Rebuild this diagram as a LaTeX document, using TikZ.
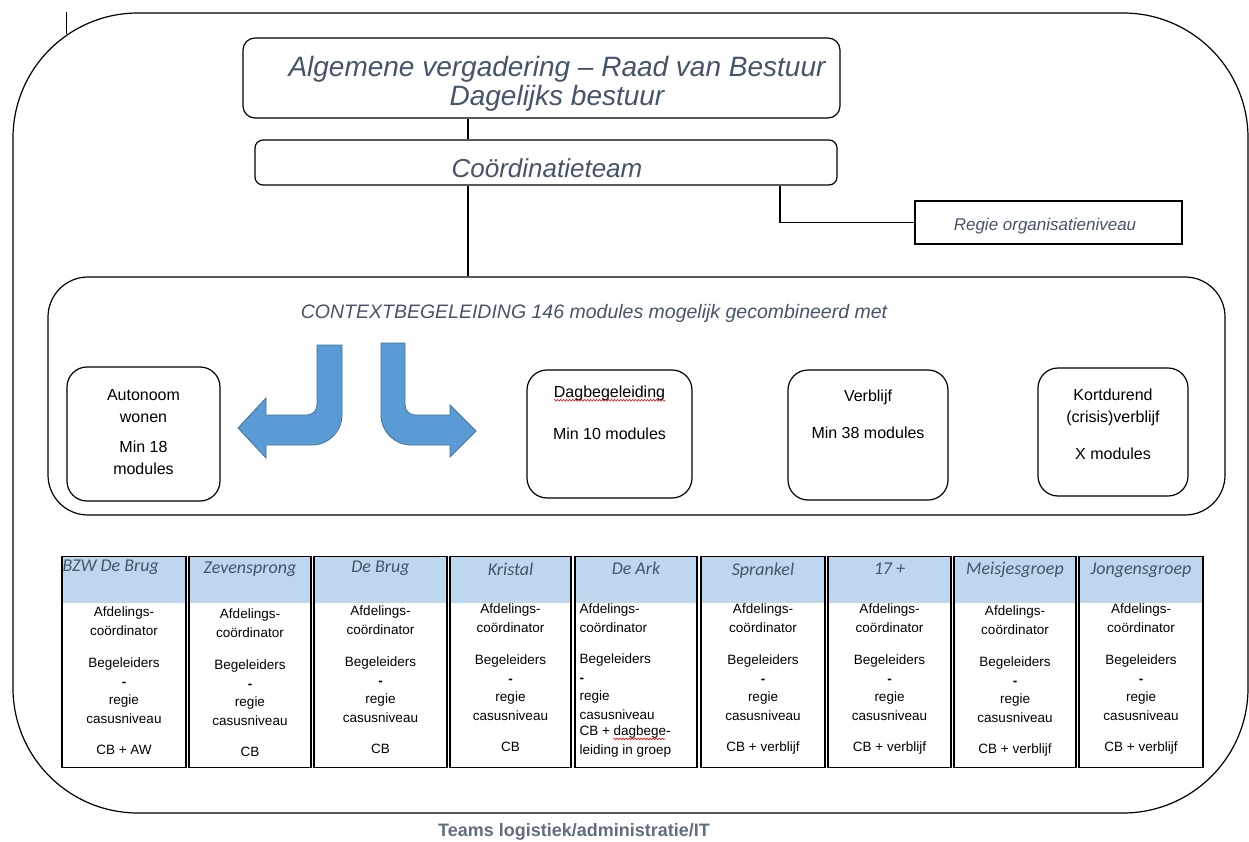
\documentclass[tikz,border=0pt]{standalone}
\usepackage{fontspec}
\setmainfont{Liberation Sans}
\newfontfamily\calibri{Carlito}
\usetikzlibrary{positioning}
\usetikzlibrary{decorations.pathmorphing}
\definecolor{titlegray}{HTML}{44546A}
\definecolor{headblue}{HTML}{BDD7EE}
\definecolor{arrowblue}{HTML}{5B9BD5}
\definecolor{arrowline}{HTML}{41719C}
\newcommand{\unittext}[1]{Afdelings-\\coördinator\\[14pt]Begeleiders\\\textbf{-}\\regie\\casusniveau\\[13pt]#1}
\tikzset{every node/.style={inner sep=0pt},
rbox/.style={ % Rounded boxes of board, context and modules
draw,
line width=1.2pt,
rounded corners=#1},
rbox/.default=10pt,
title/.style={font=\itshape\fontsize{28}{29}\selectfont, text=titlegray, align=center},
modtext/.style={font=\fontsize{16}{22}\selectfont, align=center},
unit/.style={ % Team columns with blue header
draw,
line width=1.3pt,
minimum height=211pt,
path picture={\fill[headblue] (path picture bounding box.north west)
rectangle ([yshift=-46pt]path picture bounding box.north east);}},
unithead/.style={font=\calibri\itshape\fontsize{18}{18}\selectfont, text=titlegray},
unitbody/.style={font=\fontsize{13.5}{18.5}\selectfont, align=center},
spell/.style={draw=red, line width=0.6pt, decorate,
decoration={snake, amplitude=0.8pt, segment length=3pt}},
bendarrow/.style={fill=arrowblue, draw=arrowline, line width=0.8pt},
link/.style={line width=1.2pt}}

\begin{document}
\begin{tikzpicture}[x=1pt, y=-1pt]
\useasboundingbox (0,0) rectangle (1249,842);
\node[rbox=125pt, minimum width=1235pt, minimum height=800pt] (org) at (630.5,413) {};
\draw[link] ([xshift=54pt]org.north west) -- ++(0,22);

% board and coordination
\node[rbox=12pt, minimum width=597pt, minimum height=80pt] (bestuur) at (541.5,78) {};
\node[title] (bestuurtext) at (557,84) {Algemene vergadering – Raad van Bestuur\\Dagelijks bestuur};
\node[rbox=8pt, minimum width=582pt, minimum height=45pt] (coord) at (546,162.5) {};
\node[title, font=\itshape\fontsize{26}{26}\selectfont] (coordtext) at (547,168) {Coördinatieteam};
\node[draw, line width=1.2pt, minimum width=267pt, minimum height=43pt] (regie) at (1048.5,222.5) {};
\node[font=\itshape\fontsize{17}{17}\selectfont, text=titlegray] (regietext) at (1045,226) {Regie organisatieniveau};

% context and modules
\node[rbox=40pt, minimum width=1177pt, minimum height=238pt] (ctx) at (636.5,396) {};
\node[title, font=\itshape\fontsize{19.5}{20}\selectfont] (ctxtitle) at (594,313) {CONTEXTBEGELEIDING 146 modules mogelijk gecombineerd met};
\node[rbox=20pt, minimum width=153pt, minimum height=134pt] (aw) at (143.5,434) {};
\node[rbox=20pt, minimum width=165pt, minimum height=128pt] (dag) at (609.5,434) {};
\node[rbox=20pt, minimum width=160pt, minimum height=130pt] (verblijf) at (868,435) {};
\node[rbox=20pt, minimum width=150pt, minimum height=128pt] (kort) at (1113,432) {};
\node[modtext, below=23pt of aw.north] (awtext) {Autonoom\\wonen\\[8pt]Min 18\\modules};
\node[modtext, below=16pt of dag.north] (dagname) {Dagbegeleiding};
\node[modtext, below=27pt of dagname] (dagtext) {Min 10 modules};
\draw[spell] ([yshift=-3pt]dagname.base west) -- ([yshift=-3pt]dagname.base east);
\node[modtext, below=20pt of verblijf.north] (verblijftext) {Verblijf\\[15pt]Min 38 modules};
\node[modtext, below=21pt of kort.north] (korttext) {Kortdurend\\(crisis)verblijf\\[15pt]X modules};
\filldraw[bendarrow] (317,345) -- (342,345) -- (342,415) .. controls (342,431.5) and (328.5,445) .. (312,445) -- (266,445) -- (266,458) -- (238,428) -- (266,398) -- (266,415) -- (307,415) .. controls (312.5,415) and (317,410.5) .. (317,405) -- cycle;
\filldraw[bendarrow] (405,343) -- (381,343) -- (381,415) .. controls (381,431.5) and (394.5,445) .. (411,445) -- (450,445) -- (450,457) -- (476,431) -- (450,405) -- (450,415) -- (415,415) .. controls (409.5,415) and (405,410.5) .. (405,405) -- cycle;

% connectors
\coordinate (spine) at (468,0);
\coordinate (tap) at (780,0);
\draw[link] (bestuur.south -| spine) -- (coord.north -| spine);
\draw[link] (coord.south -| spine) -- (ctx.north -| spine);
\draw[link] (coord.south -| tap) |- (regie.west);

% teams
\node[unit, minimum width=124pt] (bzw) at (124,662) {};
\node[unit, minimum width=122pt] (zeven) at (250,662) {};
\node[unit, minimum width=133pt] (brug) at (380.5,662) {};
\node[unit, minimum width=121pt] (kristal) at (510.5,662) {};
\node[unit, minimum width=122pt] (ark) at (636,662) {};
\node[unit, minimum width=124pt] (sprankel) at (763,662) {};
\node[unit, minimum width=123pt] (zeventien) at (889.5,662) {};
\node[unit, minimum width=122pt] (meisjes) at (1015,662) {};
\node[unit, minimum width=124pt] (jongens) at (1141,662) {};
\node[unithead, anchor=north west] at ([xshift=1pt, yshift=-4pt]bzw.north west) {BZW De Brug};
\node[unithead, below=6pt of zeven.north] {Zevensprong};
\node[unithead, below=5pt of brug.north] {De Brug};
\node[unithead, below=7pt of kristal.north] {Kristal};
\node[unithead, below=6pt of ark.north] {De Ark};
\node[unithead, below=7pt of sprankel.north] {Sprankel};
\node[unithead, below=7pt of zeventien.north] {17 +};
\node[unithead, below=6pt of meisjes.north] {Meisjesgroep};
\node[unithead, below=7pt of jongens.north] {Jongensgroep};
\node[unitbody, below=51pt of bzw.north] {\unittext{CB + AW}};
\node[unitbody, below=53pt of zeven.north] {\unittext{CB}};
\node[unitbody, below=50pt of brug.north] {\unittext{CB}};
\node[unitbody, below=48pt of kristal.north] {\unittext{CB}};
\node[unitbody, align=left, anchor=north west] (arkbody) at ([xshift=5pt, yshift=-48pt]ark.north west) {Afdelings-\\coördinator\\[13pt]Begeleiders\\\textbf{-}\\regie\\casusniveau};
\node[unitbody, align=left, anchor=north west] (arklast) at ([yshift=-122pt]arkbody.north west) {CB + dagbege-\\leiding in groep};
\draw[spell] ([xshift=34pt, yshift=-13pt]arklast.north west) -- ++(52,0);
\node[unitbody, below=48pt of sprankel.north] {\unittext{CB + verblijf}};
\node[unitbody, below=48pt of zeventien.north] {\unittext{CB + verblijf}};
\node[unitbody, below=50pt of meisjes.north] {\unittext{CB + verblijf}};
\node[unitbody, below=48pt of jongens.north] {\unittext{CB + verblijf}};
\node[font=\bfseries\fontsize{18}{18}\selectfont, text=titlegray!85] (teams) at (574,832) {Teams logistiek/administratie/IT};
\end{tikzpicture}
\end{document}
